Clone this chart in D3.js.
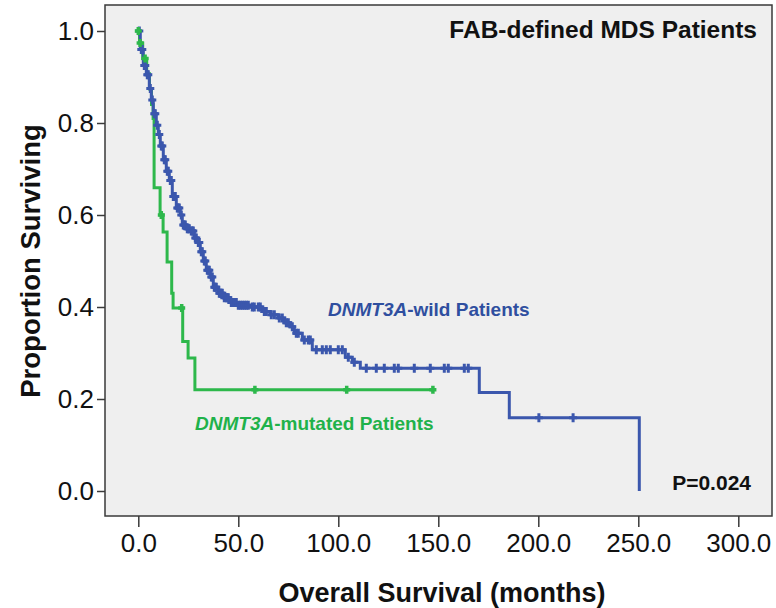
<!DOCTYPE html>
<html>
<head>
<meta charset="utf-8">
<script src="https://cdn.jsdelivr.net/npm/d3@7"></script>
<style>
  body { margin: 0; background: #fff; }
  svg { display: block; font-family: "Liberation Sans", Arial, sans-serif; }
</style>
</head>
<body>
<svg id="chart" width="776" height="608"></svg>
<script>
// ---- data ----
// Kaplan-Meier steps: time (months) where the survival level starts, and the level
const wildTimes = [0, 1, 2.5, 4, 5.5, 6.5, 7.5, 9, 10, 11, 12.5, 14, 15.5, 17, 19, 21, 22, 24, 26, 28,
  29.5, 31, 32.5, 34, 36, 37.5, 40, 42.5, 46, 49.5, 56, 62, 66, 70, 73, 76, 78, 82, 87,
  103.5, 107, 111, 170.5, 185.5];
const wildSurv = [1.0, 0.96, 0.925, 0.905, 0.875, 0.85, 0.82, 0.795, 0.775, 0.75, 0.72, 0.695, 0.675, 0.64, 0.615, 0.6, 0.578, 0.57, 0.565, 0.55,
  0.54, 0.52, 0.5, 0.48, 0.465, 0.443, 0.43, 0.42, 0.41, 0.404, 0.4, 0.39, 0.383, 0.376, 0.366, 0.357, 0.343, 0.328, 0.307,
  0.291, 0.28, 0.267, 0.214, 0.159];
const wildEnd = { time: 250.5, surv: 0 };
const wildCensored = [0.5, 1.5, 2, 3, 3.5, 4.5, 5, 6, 7, 8, 8.5, 9.5, 10.5, 11.5, 12, 13, 13.5, 14.5, 15, 16, 16.5,
  17.5, 18, 18.5, 19.5, 20, 20.5, 21.5, 22.5, 23, 23.5, 24.5, 25, 25.5, 26.5, 27, 27.5, 28.5, 29, 30, 30.5,
  31.5, 32, 33, 33.5, 34.5, 35, 35.5, 36.5, 37, 38, 38.5, 39, 40.5, 41, 41.5, 42, 43, 44, 44.5, 45, 46.5, 47,
  48, 49, 50, 51, 52, 53, 54, 55, 57, 58, 60, 61, 63, 64, 66.5, 68, 70.5, 72, 74, 75, 77, 79, 80, 83, 85, 86,
  89, 92, 94, 96, 100, 102, 105, 108, 114, 119, 123, 128, 130, 138, 146, 153, 155, 163, 165, 200.3, 217.4];

const mutTimes = [0, 0.6, 2.2, 4.2, 5.6, 6.6, 7.4, 7.9, 10.9, 12.4, 14.4, 16.7, 17.4, 22.2, 24.9, 28.3];
const mutSurv = [1.0, 0.974, 0.94, 0.907, 0.874, 0.84, 0.81, 0.659, 0.6, 0.563, 0.498, 0.43, 0.398, 0.325, 0.289, 0.22];
const mutEnd = { time: 147.3, surv: 0.22 };
const mutCensored = [0, 0.9, 3.4, 11.5, 21.7, 58.3, 104.2, 147.3];

const xTicks = [0, 50, 100, 150, 200, 250, 300];
const yTicks = [0, 0.2, 0.4, 0.6, 0.8, 1.0];

// ---- layout ----
const frame = { left: 105, top: 5, right: 772, bottom: 516 };
const blue = "#3b57ad";
const green = "#2db84b";

const svg = d3.select("#chart");

const x = d3.scaleLinear().domain([0, 300]).range([138.3, 738.3]);
const y = d3.scaleLinear().domain([0, 1]).range([491, 31]);

// plot background + frame
svg.append("rect")
  .attr("x", frame.left)
  .attr("y", frame.top)
  .attr("width", frame.right - frame.left)
  .attr("height", frame.bottom - frame.top)
  .attr("fill", "#efefef")
  .attr("stroke", "#3a3a3a")
  .attr("stroke-width", 1.5);

// y axis
const yAxis = svg.append("g")
  .attr("transform", `translate(${frame.left},0)`)
  .call(d3.axisLeft(y).tickValues(yTicks).tickFormat(d3.format(".1f")).tickSize(8).tickPadding(3));
yAxis.select(".domain").remove();
yAxis.selectAll("line").attr("stroke", "#3a3a3a").attr("stroke-width", 1.5);
yAxis.selectAll("text")
  .attr("fill", "#111")
  .style("font-size", "26px")
  .style("font-family", "'Liberation Sans', Arial, sans-serif");

// x axis
const xAxis = svg.append("g")
  .attr("transform", `translate(0,${frame.bottom})`)
  .call(d3.axisBottom(x).tickValues(xTicks).tickFormat(d3.format(".1f")).tickSize(11).tickPadding(7));
xAxis.select(".domain").remove();
xAxis.selectAll("line").attr("stroke", "#3a3a3a").attr("stroke-width", 1.5);
xAxis.selectAll("text")
  .attr("fill", "#111")
  .style("font-size", "26px")
  .style("font-family", "'Liberation Sans', Arial, sans-serif");

// axis titles
svg.append("text")
  .attr("x", 442)
  .attr("y", 602)
  .attr("text-anchor", "middle")
  .style("font-size", "27px")
  .style("font-weight", "bold")
  .attr("fill", "#111")
  .text("Overall Survival (months)");

svg.append("text")
  .attr("transform", `translate(40,261) rotate(-90)`)
  .attr("text-anchor", "middle")
  .style("font-size", "27.5px")
  .style("font-weight", "bold")
  .attr("fill", "#111")
  .text("Proportion Surviving");

// survival curves
const line = d3.line()
  .x(d => x(d.time))
  .y(d => y(d.surv))
  .curve(d3.curveStepAfter);

function steps(times, surv, end) {
  const pts = times.map((t, i) => ({ time: t, surv: surv[i] }));
  pts.push(end);
  return pts;
}

function survAt(times, surv, t) {
  let s = surv[0];
  times.forEach((tt, i) => { if (tt <= t) s = surv[i]; });
  return s;
}

// "+" shaped censor mark centred on the curve
function plus(cx, cy, w, h) {
  return `M${cx - w / 2},${cy}H${cx + w / 2}M${cx},${cy - h / 2}V${cy + h / 2}`;
}

const mutPts = steps(mutTimes, mutSurv, mutEnd);
const wildPts = steps(wildTimes, wildSurv, wildEnd);

svg.append("path")
  .datum(mutPts)
  .attr("d", line)
  .attr("fill", "none")
  .attr("stroke", green)
  .attr("stroke-width", 3);

svg.append("path")
  .datum(wildPts)
  .attr("d", line)
  .attr("fill", "none")
  .attr("stroke", blue)
  .attr("stroke-width", 3);

// censor marks
svg.selectAll(".wild-censor")
  .data(wildCensored)
  .enter()
  .append("path")
  .attr("class", "wild-censor")
  .attr("d", d => plus(x(d), y(survAt(wildTimes, wildSurv, d)), 8, 9))
  .attr("fill", "none")
  .attr("stroke", blue)
  .attr("stroke-width", 3);

svg.selectAll(".mut-censor")
  .data(mutCensored)
  .enter()
  .append("path")
  .attr("class", "mut-censor")
  .attr("d", d => plus(x(d), y(survAt(mutTimes, mutSurv, d)), 7, 8))
  .attr("fill", "none")
  .attr("stroke", green)
  .attr("stroke-width", 3.5);

// annotations
svg.append("text")
  .attr("x", 757)
  .attr("y", 38)
  .attr("text-anchor", "end")
  .style("font-size", "24.5px")
  .style("font-weight", "bold")
  .attr("fill", "#111")
  .text("FAB-defined MDS Patients");

svg.append("text")
  .attr("x", 751)
  .attr("y", 490)
  .attr("text-anchor", "end")
  .style("font-size", "21px")
  .style("font-weight", "bold")
  .attr("fill", "#111")
  .text("P=0.024");

const wildLabel = svg.append("text")
  .attr("x", 328)
  .attr("y", 316)
  .style("font-size", "19px")
  .style("font-weight", "bold")
  .attr("fill", "#2f4fa0");
wildLabel.append("tspan").style("font-style", "italic").text("DNMT3A");
wildLabel.append("tspan").text("-wild Patients");

const mutLabel = svg.append("text")
  .attr("x", 195)
  .attr("y", 430)
  .style("font-size", "19px")
  .style("font-weight", "bold")
  .attr("fill", "#1fb24a");
mutLabel.append("tspan").style("font-style", "italic").text("DNMT3A");
mutLabel.append("tspan").text("-mutated Patients");
</script>
</body>
</html>
